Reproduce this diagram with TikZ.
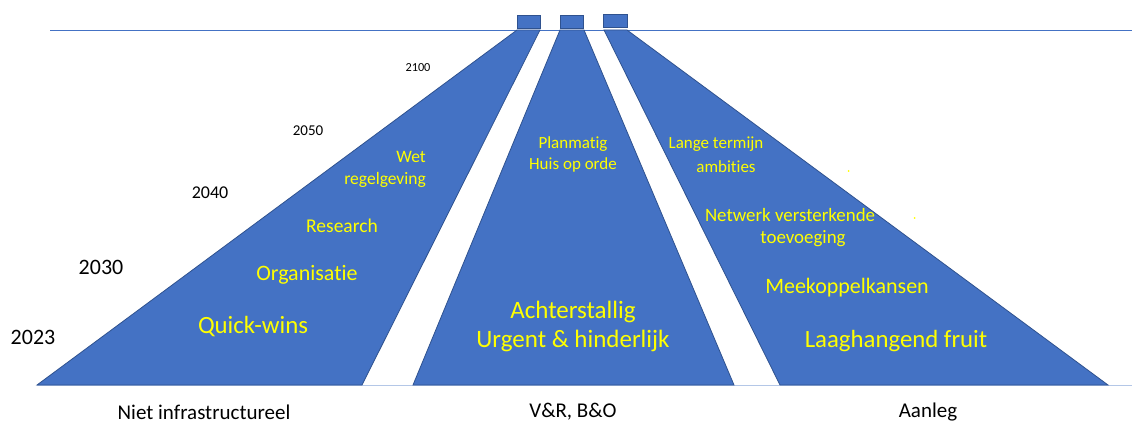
\documentclass[tikz,border=0pt]{standalone}
\usepackage{fontspec}
\setmainfont{Carlito}[Ligatures=NoCommon]
\definecolor{shapeblue}{HTML}{4472C4}
\definecolor{edgeblue}{HTML}{2F528F}
\definecolor{lineblue}{HTML}{4472C4}
\definecolor{paleblue}{HTML}{B4C7E7}
\definecolor{txtyellow}{HTML}{FFFF00}
\tikzset{
  panel/.style={fill=shapeblue, draw=edgeblue, line width=0.8pt, line join=miter},
  topbox/.style={fill=shapeblue, draw=edgeblue, line width=0.9pt},
  ylab/.style={text=txtyellow, inner sep=0pt, align=center},
  year/.style={text=black, inner sep=0pt},
  cat/.style={text=black, inner sep=0pt, font=\fontsize{21}{24}\selectfont},
}
\begin{document}
\begin{tikzpicture}[x=1pt,y=-1pt]
\useasboundingbox (0,0) rectangle (1132,427);
% guide lines
\draw[lineblue, line width=0.7pt] (50,30) -- (1132,30);
\draw[paleblue, line width=1.2pt] (37,385.5) -- (1132,385.5);
% panels
\draw[panel] (37,385) -- (517,30) -- (540,30) -- (362,385) -- cycle;
\draw[panel] (413,385) -- (560,30) -- (584,30) -- (734,385) -- cycle;
\draw[panel] (780,385) -- (604,30) -- (627,30) -- (1108,385) -- cycle;
% top boxes
\draw[topbox] (517,15) rectangle (540,28);
\draw[topbox] (560,15) rectangle (583,28);
\draw[topbox] (603,14) rectangle (627,27);
% years
\node[year, font=\fontsize{12.3}{14}\selectfont] (y2100) at (418,68) {2100};
\node[year, font=\fontsize{15}{17}\selectfont] (y2050) at (308,131) {2050};
\node[year, font=\fontsize{18}{20}\selectfont] (y2040) at (210,193) {2040};
\node[year, font=\fontsize{22}{24}\selectfont] (y2030) at (101,267) {2030};
\node[year, font=\fontsize{22}{24}\selectfont] (y2023) at (33,337) {2023};
% left panel texts
\node[ylab, font=\fontsize{17.5}{22}\selectfont, align=right, anchor=east] (wet) at (426,169) {Wet\\regelgeving};
\node[ylab, font=\fontsize{19.5}{22}\selectfont] (research) at (342,226) {Research};
\node[ylab, font=\fontsize{22}{24}\selectfont] (organisatie) at (307,275) {Organisatie};
\node[ylab, font=\fontsize{24.8}{28}\selectfont] (quick) at (253,327) {Quick-wins};
% middle panel texts
\node[ylab, font=\fontsize{17}{21}\selectfont] (plan) at (573,154) {Planmatig\\Huis op orde};
\node[ylab, font=\fontsize{25}{29}\selectfont] (achter) at (573,326) {Achterstallig\\Urgent \& hinderlijk};
% right panel texts
\node[ylab, font=\fontsize{17}{21}\selectfont] (lange) at (716,144) {Lange termijn};
\node[ylab, font=\fontsize{17}{21}\selectfont] (ambities) at (726,167) {ambities};
\node[ylab, font=\fontsize{18.9}{23}\selectfont] (netwerk) at (790,215) {Netwerk versterkende};
\node[ylab, font=\fontsize{18.9}{23}\selectfont] (toevoeging) at (803,239) {toevoeging};
\node[ylab, font=\fontsize{22}{24}\selectfont] (mee) at (847,288) {Meekoppelkansen};
\node[ylab, font=\fontsize{24.8}{28}\selectfont] (laag) at (896,341) {Laaghangend fruit};
% stray dots
\fill[txtyellow] (848.5,171) circle (1pt);
\fill[txtyellow] (914.5,218) circle (1pt);
% categories
\node[cat] (niet) at (204,412) {Niet infrastructureel};
\node[cat] (vr) at (573,412) {V\&R, B\&O};
\node[cat] (aanleg) at (928,412) {Aanleg};
\end{tikzpicture}
\end{document}
